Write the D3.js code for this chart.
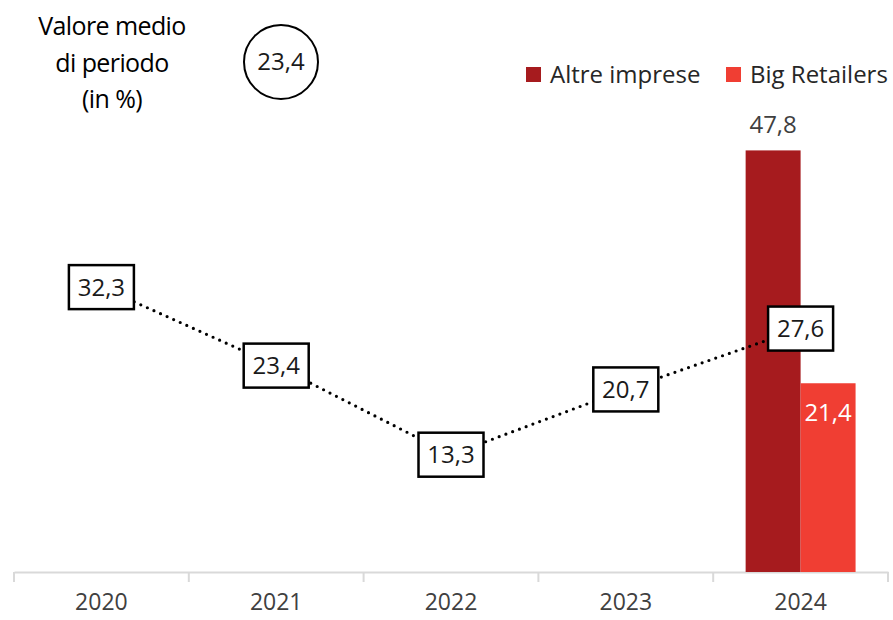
<!DOCTYPE html>
<html><head><meta charset="utf-8">
<script src="https://cdn.jsdelivr.net/npm/d3@7"></script>
<style>
body{margin:0;background:#fff;}
svg{display:block;font-family:"Open Sans",sans-serif;}
</style></head>
<body><svg id="c" width="893" height="620"></svg>
<script>
const years = ["2020","2021","2022","2023","2024"];
const lineValues = [32.3, 23.4, 13.3, 20.7, 27.6];
const barYears = ["2024"];
const altreImprese = [47.8];
const bigRetailers = [21.4];
const seriesNames = ["Altre imprese","Big Retailers"];
const seriesColors = ["#A61B1E","#F03E33"];
const averageValue = 23.4;
const titleLines = ["Valore medio","di periodo","(in %)"];

const fmt = v => d3.format(".1f")(v).replace(".", ",");
const svg = d3.select("#c");
const x = d3.scaleBand().domain(years).range([14, 888]).padding(0);
const y = d3.scaleLinear().domain([0, 50]).range([572, 131]);
const xSub = d3.scaleBand().domain(seriesNames).range([0, x.bandwidth()]).paddingInner(0).paddingOuter(0.59);

// axis
const axis = svg.append("g").attr("transform","translate(0,572)")
  .call(d3.axisBottom(x).tickSize(0).tickPadding(22));
axis.select(".domain").attr("stroke","#d9d9d9").attr("stroke-width",2);
axis.selectAll("text").attr("font-size",23).attr("fill","#404040").attr("font-family","Open Sans");
const bounds = years.map(d => x(d)).concat([x(years[years.length-1]) + x.bandwidth()]);
axis.selectAll(".bnd").data(bounds).enter().append("line")
  .attr("x1", d=>d).attr("x2", d=>d).attr("y1",0).attr("y2",10)
  .attr("stroke","#d9d9d9").attr("stroke-width",2);

// bars
const barData = [];
barYears.forEach((yr,i)=>{
  barData.push({year:yr, s:seriesNames[0], v:altreImprese[i], c:seriesColors[0]});
  barData.push({year:yr, s:seriesNames[1], v:bigRetailers[i], c:seriesColors[1]});
});
svg.selectAll(".bar").data(barData).enter().append("rect")
  .attr("x", d=>x(d.year)+xSub(d.s)).attr("width", xSub.bandwidth())
  .attr("y", d=>y(d.v)).attr("height", d=>y(0)-y(d.v)).attr("fill", d=>d.c);
// bar labels
svg.selectAll(".bl").data(barData).enter().append("text")
  .attr("x", d=>x(d.year)+xSub(d.s)+xSub.bandwidth()/2)
  .attr("y", d=> d.s===seriesNames[0] ? y(d.v)-17 : y(d.v)+38)
  .attr("text-anchor","middle").attr("font-size",24)
  .attr("fill", d=> d.s===seriesNames[0] ? "#404040" : "#fff")
  .text(d=>fmt(d.v));

// dotted line
const pts = years.map((d,i)=>[x(d)+x.bandwidth()/2, y(lineValues[i])]);
svg.append("path").attr("d", d3.line()(pts)).attr("fill","none")
  .attr("stroke","#000").attr("stroke-width",3.2).attr("stroke-linecap","round")
  .attr("stroke-dasharray","0 7.2");

// boxed labels
const lg = svg.selectAll(".lb").data(years).enter().append("g")
  .attr("transform",(d,i)=>`translate(${pts[i][0]},${pts[i][1]})`);
lg.append("rect").attr("x",-32.5).attr("y",-22).attr("width",65).attr("height",44)
  .attr("fill","#fff").attr("stroke","#000").attr("stroke-width",2.5);
lg.append("text").attr("text-anchor","middle").attr("dy","0.35em").attr("font-size",24)
  .attr("fill","#1a1a1a").text((d,i)=>fmt(lineValues[i]));

// title
const t = svg.append("text").attr("x",112).attr("y",35).attr("text-anchor","middle")
  .attr("font-size",25).attr("letter-spacing","-0.6").attr("fill","#000");
titleLines.forEach((l,i)=>t.append("tspan").attr("x",112).attr("dy", i===0?0:36.5).text(l));
svg.append("circle").attr("cx",281).attr("cy",62).attr("r",37)
  .attr("fill","none").attr("stroke","#000").attr("stroke-width",2);
svg.append("text").attr("x",281).attr("y",62).attr("dy","0.35em").attr("text-anchor","middle")
  .attr("font-size",24).attr("fill","#1a1a1a").text(fmt(averageValue));

// legend
const legX = [526, 726];
const leg = svg.selectAll(".lg").data(seriesNames).enter().append("g")
  .attr("transform",(d,i)=>`translate(${legX[i]},67)`);
leg.append("rect").attr("width",15).attr("height",15).attr("fill",(d,i)=>seriesColors[i]);
leg.append("text").attr("x",24).attr("y",16).attr("font-size",24).attr("fill","#262626").text(d=>d);
</script></body></html>
